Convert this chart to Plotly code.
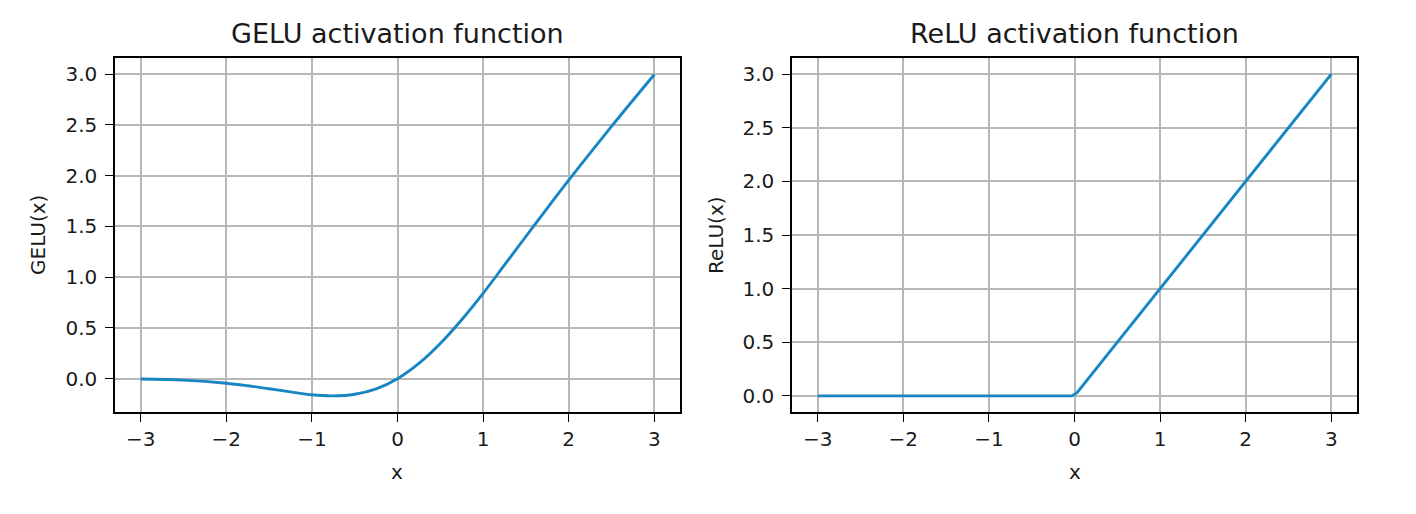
import plotly.graph_objects as go

# GELU curve points
gelu_x = [-3, -2.5, -2, -1.75, -1.5, -1.25, -1, -0.75, -0.5, -0.25, 0,
          0.25, 0.5, 0.75, 1, 1.25, 1.5, 1.75, 2, 2.5, 3]
gelu_y = [-0.004, -0.015, -0.045, -0.07, -0.10, -0.13, -0.159, -0.17, -0.154, -0.10, 0.0,
          0.15, 0.346, 0.58, 0.84, 1.12, 1.40, 1.68, 1.955, 2.485, 2.996]

# ReLU curve points
relu_x = [-3, -0.03, 0.03, 3]
relu_y = [0, 0, 0.03, 3]

x_ticks = [-3, -2, -1, 0, 1, 2, 3]
y_ticks = [0.0, 0.5, 1.0, 1.5, 2.0, 2.5, 3.0]

titles = ["GELU activation function", "ReLU activation function"]
ylabels = ["GELU(x)", "ReLU(x)"]

W, H = 1416, 514
LINE = "#1786c3"
FONT = "DejaVu Sans"

fig = go.Figure()
fig.add_trace(go.Scatter(x=gelu_x, y=gelu_y, mode="lines",
                         line=dict(color=LINE, width=2.9, shape="spline", smoothing=1.0),
                         xaxis="x", yaxis="y", showlegend=False))
fig.add_trace(go.Scatter(x=relu_x, y=relu_y, mode="lines",
                         line=dict(color=LINE, width=2.9),
                         xaxis="x2", yaxis="y2", showlegend=False))

ax_common = dict(showline=True, mirror=True, linecolor="black", linewidth=1.5,
                 ticks="outside", ticklen=8, tickwidth=1.4, tickcolor="black",
                 showgrid=True, gridcolor="#b8b8b8", gridwidth=1.5,
                 zeroline=False, tickfont=dict(family=FONT, size=20, color="#1a1a1a"))

left = (115, 680)
right = (792, 1357)
top, bottom = 58, 412
yd = [1 - bottom / H, 1 - top / H]

fig.update_layout(
    width=W, height=H, margin=dict(l=0, r=0, t=0, b=0),
    paper_bgcolor="white", plot_bgcolor="white",
    xaxis=dict(domain=[left[0] / W, left[1] / W], range=[-3.3, 3.3],
               tickvals=x_ticks, anchor="y", **ax_common),
    yaxis=dict(domain=yd, range=[-0.3285, 3.158], tickvals=y_ticks,
               tickformat=".1f", anchor="x", ticklabelstandoff=4, **ax_common),
    xaxis2=dict(domain=[right[0] / W, right[1] / W], range=[-3.3, 3.3],
                tickvals=x_ticks, anchor="y2", **ax_common),
    yaxis2=dict(domain=yd, range=[-0.15, 3.15], tickvals=y_ticks,
                tickformat=".1f", anchor="x2", ticklabelstandoff=4, **ax_common),
)

centers = [(left[0] + left[1]) / 2, (right[0] + right[1]) / 2]
ylab_x = [38, 716]
for i in range(2):
    fig.add_annotation(text=titles[i], x=centers[i] / W, y=1 - 33 / H,
                       xref="paper", yref="paper", showarrow=False,
                       xanchor="center", yanchor="middle",
                       font=dict(family=FONT, size=27, color="#1a1a1a"))
    fig.add_annotation(text="x", x=centers[i] / W, y=1 - 472 / H,
                       xref="paper", yref="paper", showarrow=False,
                       xanchor="center", yanchor="middle",
                       font=dict(family=FONT, size=20, color="#1a1a1a"))
    fig.add_annotation(text=ylabels[i], x=ylab_x[i] / W, y=(yd[0] + yd[1]) / 2,
                       xref="paper", yref="paper", showarrow=False, textangle=-90,
                       xanchor="center", yanchor="middle",
                       font=dict(family=FONT, size=20, color="#1a1a1a"))

fig.write_html("out.html")
